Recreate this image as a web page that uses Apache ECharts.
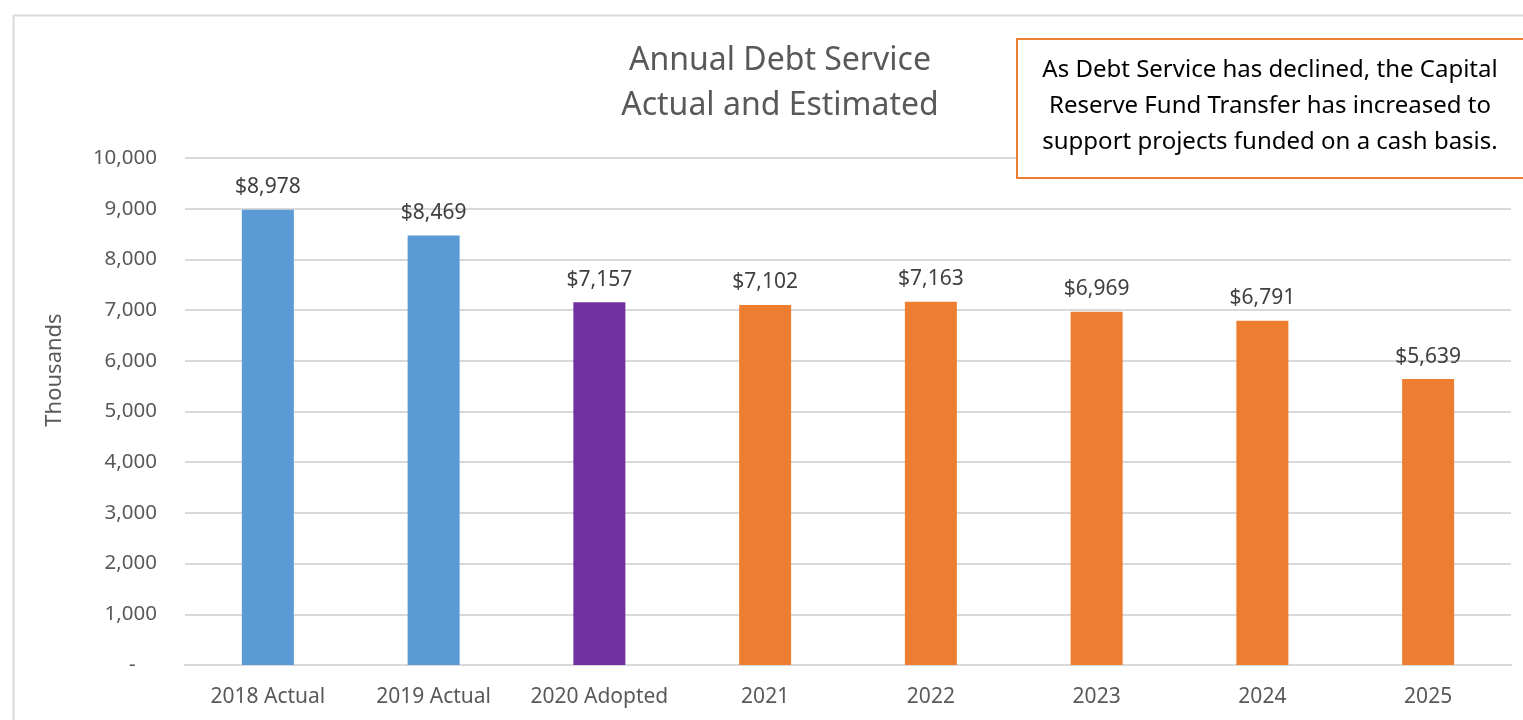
<!DOCTYPE html>
<html>
<head>
<meta charset="utf-8">
<script src="https://cdn.jsdelivr.net/npm/echarts@6/dist/echarts.min.js"></script>
<style>
  html, body { margin: 0; padding: 0; background: #fff; }
  #chart { width: 1523px; height: 720px; }
</style>
</head>
<body>
<div id="chart"></div>
<script>
const categories = ["2018 Actual", "2019 Actual", "2020 Adopted", "2021", "2022", "2023", "2024", "2025"];
const debtService = [8978, 8469, 7157, 7102, 7163, 6969, 6791, 5639];
const barColors = ["#5B9BD5", "#5B9BD5", "#7030A0", "#ED7D31", "#ED7D31", "#ED7D31", "#ED7D31", "#ED7D31"];
const noteLines = [
  "As Debt Service has declined, the Capital",
  "Reserve Fund Transfer has increased to",
  "support projects funded on a cash basis."
];

const font = "Noto Sans";
const chart = echarts.init(document.getElementById("chart"));

const option = {
  animation: false,
  textStyle: { fontFamily: font },
  title: {
    text: "Annual Debt Service\nActual and Estimated",
    left: 775,
    top: 33,
    textAlign: "center",
    textStyle: {
      fontFamily: font,
      fontSize: 32,
      fontWeight: "normal",
      color: "#595959",
      lineHeight: 45,
    },
  },
  grid: {
    left: 185,
    right: 12,
    top: 158,
    bottom: 55,
    containLabel: false,
  },
  xAxis: {
    type: "category",
    data: categories,
    axisTick: { show: false },
    axisLine: { lineStyle: { color: "#D9D9D9", width: 2 } },
    axisLabel: {
      color: "#595959",
      fontSize: 21,
      margin: 22,
      interval: 0,
    },
  },
  yAxis: {
    type: "value",
    min: 0,
    max: 10000,
    interval: 1000,
    axisLine: { show: false },
    axisTick: { show: false },
    splitLine: { lineStyle: { color: "#D9D9D9", width: 2 } },
    axisLabel: {
      color: "#595959",
      fontSize: 20.5,
      margin: 28,
      formatter: (value) => {
        if (value === 0) return "-    ";
        return value.toLocaleString("en-US");
      },
    },
  },
  series: [
    {
      type: "bar",
      barWidth: 52,
      data: debtService.map((v, i) => ({
        value: v,
        itemStyle: { color: barColors[i] },
      })),
      label: {
        show: true,
        position: "top",
        distance: 12,
        color: "#404040",
        fontSize: 21,
        formatter: (p) => "$" + p.value.toLocaleString("en-US"),
      },
    },
  ],
  graphic: [
    {
      type: "rect",
      left: 11,
      top: 13,
      shape: { width: 1600, height: 800 },
      style: { fill: "none", stroke: "#D9D9D9", lineWidth: 2 },
      silent: true,
    },
    {
      type: "text",
      x: 55,
      y: 370,
      rotation: Math.PI / 2,
      style: {
        text: "Thousands",
        fontFamily: font,
        fontSize: 22,
        fill: "#595959",
        align: "center",
        verticalAlign: "middle",
      },
    },
    {
      type: "rect",
      left: 1016,
      top: 38,
      z: 10,
      shape: { width: 600, height: 139 },
      style: { fill: "#fff", stroke: "#ED7D31", lineWidth: 2 },
    },
    {
      type: "text",
      x: 1270,
      y: 52,
      z: 11,
      style: {
        text: noteLines.join("\n"),
        fontFamily: font,
        fontSize: 24,
        lineHeight: 36,
        fill: "#000",
        align: "center",
      },
    },
  ],
};

chart.setOption(option);
</script>
</body>
</html>
